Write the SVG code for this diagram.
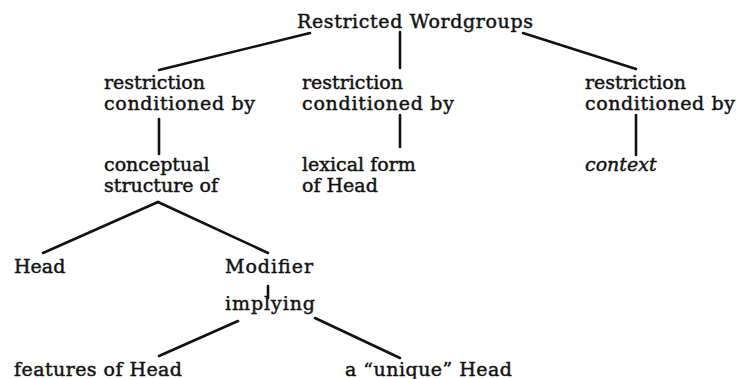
<svg xmlns="http://www.w3.org/2000/svg" width="736" height="379" viewBox="0 0 736 379">
<style>
text{font-family:"DejaVu Serif","Liberation Serif",serif;font-size:19px;fill:#111;stroke:#111;stroke-width:0.45}
.i{font-style:italic}
line{stroke:#111;stroke-width:2.6;stroke-linecap:round}
</style>
<rect width="736" height="379" fill="#fff"/>
<g id="connectors">
<line x1="310" y1="33" x2="159" y2="70"/>
<line x1="400" y1="32" x2="400" y2="68"/>
<line x1="523" y1="33" x2="636" y2="69"/>
<line x1="159" y1="119" x2="159" y2="154"/>
<line x1="400" y1="115" x2="400" y2="147"/>
<line x1="636" y1="115" x2="636" y2="155"/>
<line x1="158" y1="202" x2="43" y2="253"/>
<line x1="158" y1="202" x2="268" y2="253"/>
<line x1="268" y1="286" x2="268" y2="298"/>
<line x1="238" y1="321" x2="159" y2="356"/>
<line x1="315" y1="318" x2="400" y2="358"/>
</g>
<g id="root"><text x="297" y="28" textLength="236">Restricted Wordgroups</text></g>
<g id="r1"><text x="104" y="89">restriction</text><text x="104" y="110" textLength="151">conditioned by</text></g>
<g id="r2"><text x="302" y="89">restriction</text><text x="302" y="110" textLength="152">conditioned by</text></g>
<g id="r3"><text x="585" y="89">restriction</text><text x="585" y="110" textLength="150">conditioned by</text></g>
<g id="c1"><text x="104" y="171">conceptual</text><text x="104" y="192">structure of</text></g>
<g id="c2"><text x="302" y="171">lexical form</text><text x="302" y="192">of Head</text></g>
<g id="c3"><text class="i" x="585" y="171">context</text></g>
<g id="head"><text x="14" y="273">Head</text></g>
<g id="modifier"><text x="225" y="273" textLength="88">Modifier</text></g>
<g id="implying"><text x="225" y="310" textLength="90">implying</text></g>
<g id="features"><text x="14" y="376" textLength="168">features of Head</text></g>
<g id="unique"><text x="345" y="376" textLength="167">a “unique” Head</text></g>
</svg>
